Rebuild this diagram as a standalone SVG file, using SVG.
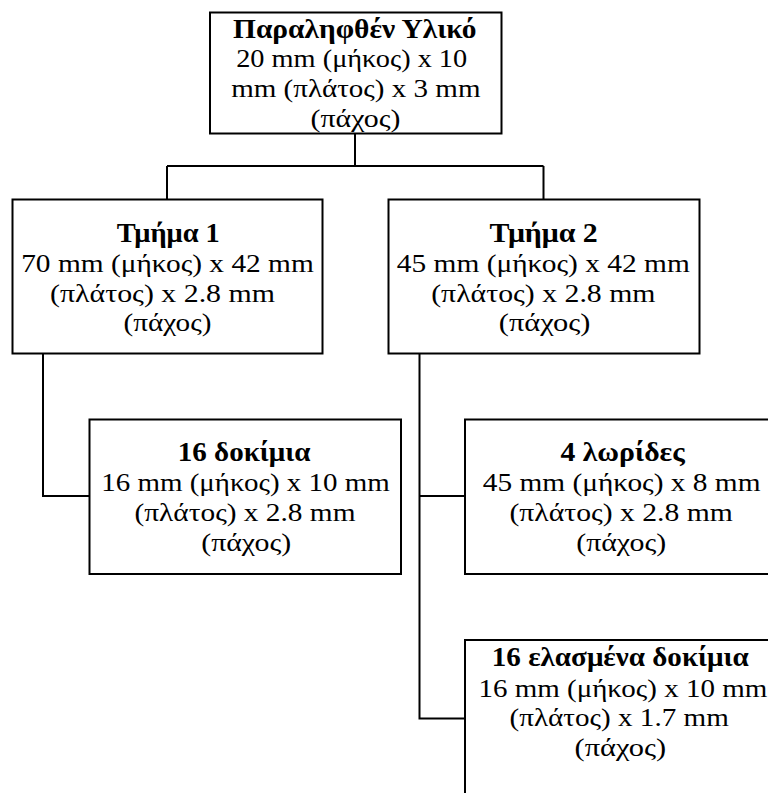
<svg xmlns="http://www.w3.org/2000/svg" width="768" height="793" viewBox="0 0 768 793">
<style>
rect.box{fill:#fff;stroke:#000;stroke-width:2}
.conn path{fill:none;stroke:#000;stroke-width:2}
text{font-family:'Liberation Serif','Times New Roman',serif;font-size:25px;fill:#000}
.b{font-weight:bold;font-size:28px}
</style>
<rect width="768" height="793" fill="#fff"/>
<g class="conn">
<path d="M355 133V166M167 166H543.5M167 166V199.5M543.5 166V199.5"/>
<path d="M43 353.5V496H89.5"/>
<path d="M419.5 353.5V718.5H465M419.5 496H465"/>
</g>
<g id="n0">
<rect class="box" x="210" y="12.5" width="291.5" height="121"/>
<text x="233" y="37.5" class="b" textLength="243.5" lengthAdjust="spacingAndGlyphs">Παραληφθέν Υλικό</text>
<text x="236.2" y="67" textLength="231" lengthAdjust="spacingAndGlyphs">20 mm (μήκος) x 10</text>
<text x="231.2" y="97" textLength="249.3" lengthAdjust="spacingAndGlyphs">mm (πλάτος) x 3 mm</text>
<text x="310.5" y="126.5" textLength="90" lengthAdjust="spacingAndGlyphs">(πάχος)</text>
</g>
<g id="n1">
<rect class="box" x="12.5" y="199.5" width="310" height="154"/>
<text x="116.8" y="241.5" class="b" textLength="103" lengthAdjust="spacingAndGlyphs">Τμήμα 1</text>
<text x="21.2" y="271.5" textLength="292.6" lengthAdjust="spacingAndGlyphs">70 mm (μήκος) x 42 mm</text>
<text x="50" y="301.5" textLength="225" lengthAdjust="spacingAndGlyphs">(πλάτος) x 2.8 mm</text>
<text x="123.5" y="331" textLength="88" lengthAdjust="spacingAndGlyphs">(πάχος)</text>
</g>
<g id="n2">
<rect class="box" x="388.5" y="199.5" width="311" height="154"/>
<text x="489.5" y="241.5" class="b" textLength="108.3" lengthAdjust="spacingAndGlyphs">Τμήμα 2</text>
<text x="396.8" y="271.5" textLength="293" lengthAdjust="spacingAndGlyphs">45 mm (μήκος) x 42 mm</text>
<text x="431.2" y="301.5" textLength="224.3" lengthAdjust="spacingAndGlyphs">(πλάτος) x 2.8 mm</text>
<text x="498.8" y="331" textLength="91.7" lengthAdjust="spacingAndGlyphs">(πάχος)</text>
</g>
<g id="n3">
<rect class="box" x="89.5" y="419.5" width="311.5" height="154.5"/>
<text x="177.8" y="460.5" class="b" textLength="132.7" lengthAdjust="spacingAndGlyphs">16 δοκίμια</text>
<text x="101.2" y="491" textLength="288.6" lengthAdjust="spacingAndGlyphs">16 mm (μήκος) x 10 mm</text>
<text x="134.5" y="521" textLength="221" lengthAdjust="spacingAndGlyphs">(πλάτος) x 2.8 mm</text>
<text x="201.2" y="550.5" textLength="90" lengthAdjust="spacingAndGlyphs">(πάχος)</text>
</g>
<g id="n4">
<rect class="box" x="465" y="419.5" width="312" height="154.5"/>
<text x="560.5" y="460.5" class="b" textLength="124.3" lengthAdjust="spacingAndGlyphs">4 λωρίδες</text>
<text x="482.8" y="491" textLength="277.7" lengthAdjust="spacingAndGlyphs">45 mm (μήκος) x 8 mm</text>
<text x="509.5" y="521" textLength="223.3" lengthAdjust="spacingAndGlyphs">(πλάτος) x 2.8 mm</text>
<text x="576.2" y="550.5" textLength="90" lengthAdjust="spacingAndGlyphs">(πάχος)</text>
</g>
<g id="n5">
<rect class="box" x="465" y="640" width="312" height="170"/>
<text x="491.8" y="666" class="b" textLength="257" lengthAdjust="spacingAndGlyphs">16 ελασμένα δοκίμια</text>
<text x="478.5" y="696.5" textLength="288.7" lengthAdjust="spacingAndGlyphs">16 mm (μήκος) x 10 mm</text>
<text x="509.5" y="726" textLength="219.3" lengthAdjust="spacingAndGlyphs">(πλάτος) x 1.7 mm</text>
<text x="574.5" y="755.5" textLength="91.7" lengthAdjust="spacingAndGlyphs">(πάχος)</text>
</g>
</svg>
